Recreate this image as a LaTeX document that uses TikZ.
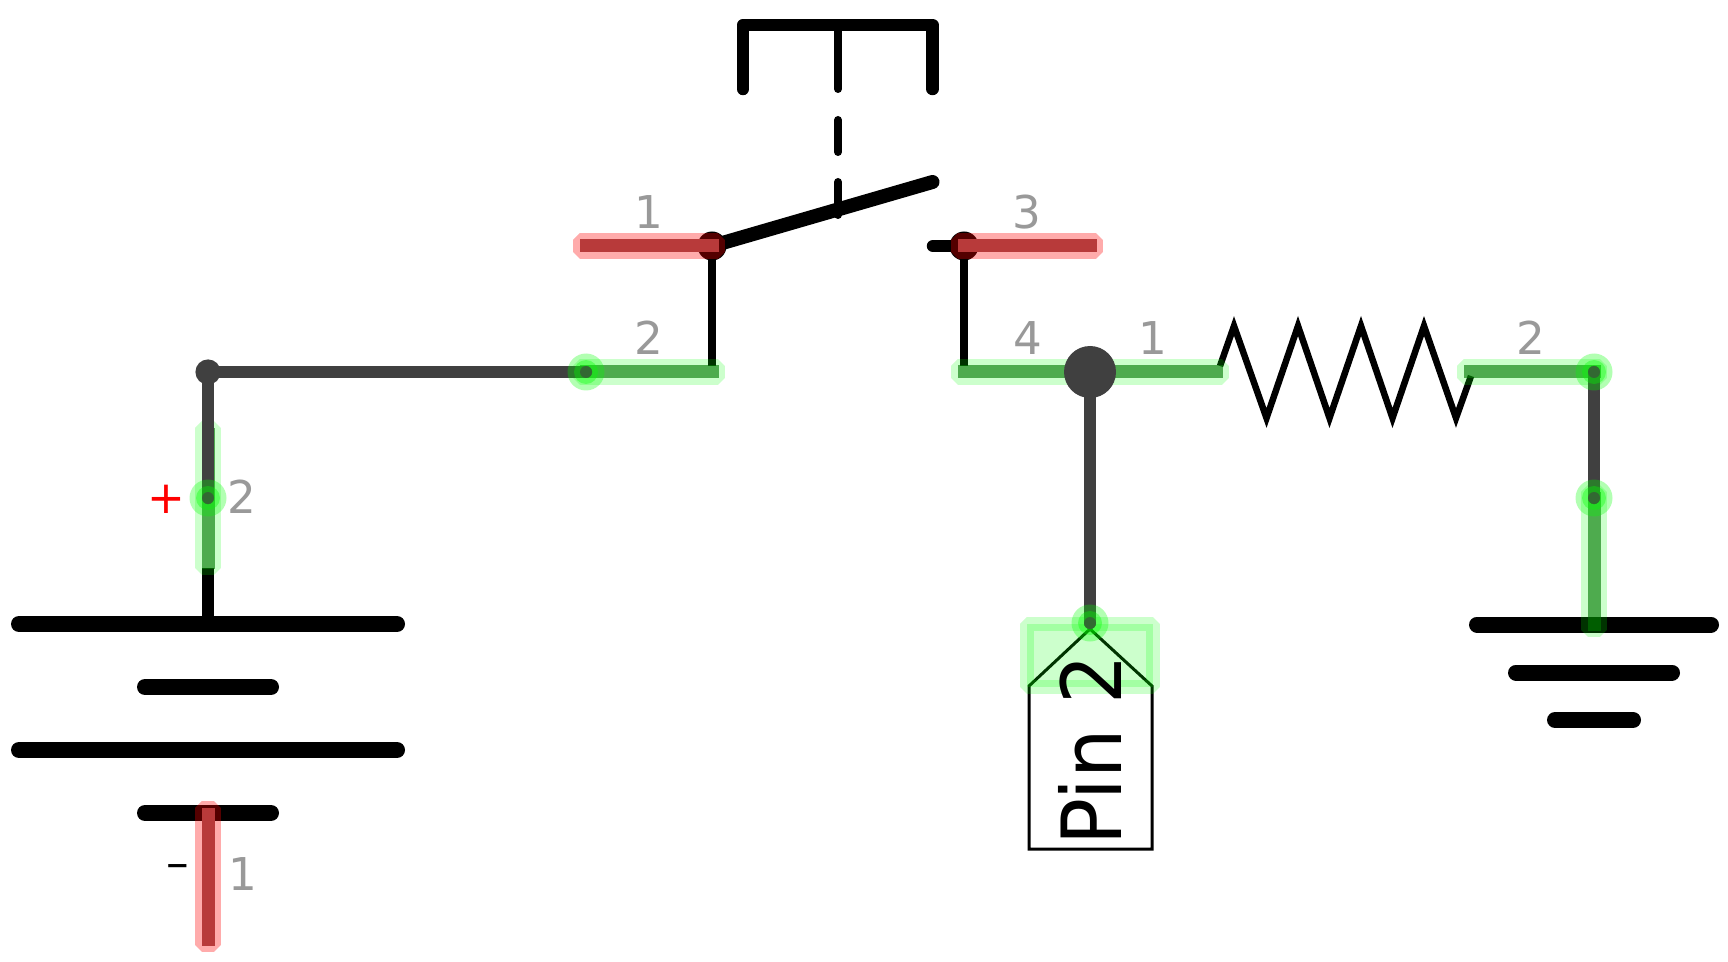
\documentclass[tikz,border=0pt]{standalone}
\usepackage{fontspec}
\usepackage{tikz}
\setmainfont{DejaVu Sans}
\newfontfamily\pinfont[FakeStretch=0.94]{DejaVu Sans}
\definecolor{wiregray}{HTML}{404040}
\definecolor{coregreen}{RGB}{0,120,0}
\definecolor{corered}{RGB}{184,58,58}
\definecolor{numgray}{HTML}{999999}
\definecolor{pindot}{RGB}{50,105,50}
\tikzset{
    symline/.style={line width=6.25pt,line cap=round,line join=round},
    plate/.style={line width=8pt,line cap=round},
    thinline/.style={line width=4.25pt},
    wire/.style={draw=wiregray,line width=6.25pt,line cap=round},
    haloG/.style={draw=green,draw opacity=0.2,line width=7pt,line join=bevel},
    haloR/.style={draw=red,draw opacity=0.33,line width=7pt,line join=bevel},
    coreG/.style={draw=coregreen,draw opacity=0.62,line width=6.5pt,line cap=rect},
    coreR/.style={draw=corered,line width=6.5pt,line cap=rect},
    pinnum/.style={text=numgray,font=\fontsize{22.6}{24}\selectfont,inner sep=0pt},
}
\newcommand{\pinbar}[3]{%
    \draw[halo#1] ([xshift=-3pt,yshift=3pt]#2) rectangle ([xshift=3pt,yshift=-3pt]#3);
    \draw[core#1] (#2) -- (#3);}
\begin{document}
\begin{tikzpicture}[x=0.5pt,y=-0.5pt]
    \useasboundingbox (0,0) rectangle (1728,962);
    \coordinate (s1a) at (586,246);
    \coordinate (s1b) at (712,246);
    \coordinate (s2a) at (586,372);
    \coordinate (s2b) at (712,372);
    \coordinate (s3a) at (964,246);
    \coordinate (s3b) at (1090,246);
    \coordinate (s4a) at (964,372);
    \coordinate (junc) at (1090,372);
    \coordinate (r1b) at (1216,372);
    \coordinate (r2a) at (1470,372);
    \coordinate (r2b) at (1594,372);
    \coordinate (corner) at (208,372);
    \coordinate (b2) at (208,498);
    \coordinate (b2a) at (208,434);
    \coordinate (b2b) at (208,562);
    \coordinate (b1a) at (208,814);
    \coordinate (b1b) at (208,939);
    \coordinate (g1) at (1594,498);
    \coordinate (g1b) at (1594,624);
    \coordinate (tag) at (1090,623);

    \draw[plate] (19,624) -- (397,624);
    \draw[plate] (145,687) -- (271,687);
    \draw[plate] (19,750) -- (397,750);
    \draw[plate] (145,813) -- (271,813);
    \draw[line width=6.25pt] (208,568) -- (208,624);

    \draw[plate] (1477,624.5) -- (1711,624.5);
    \draw[plate] (1516,672.5) -- (1672,672.5);
    \draw[plate] (1555,720) -- (1633,720);

    \draw[symline] (743,89) -- (743,25) -- (932.5,25) -- (932.5,89);
    \foreach \ya/\yb in {25/89,120/152,182/215}
        \draw[line width=4pt,line cap=round] (838,\ya) -- (838,\yb);
    \draw[symline,line width=7pt] (s1b) -- (932.5,182);
    \draw[symline] (933,246) -- (s3a);
    \fill (s1b) circle (7.25pt);
    \fill (s3a) circle (7.25pt);
    \draw[thinline] (s1b) -- (712,366);
    \draw[thinline] (s3a) -- (964,366);
    \draw[line width=3.25pt,miter limit=10] (1220,366) -- (1234,326) -- (1266.5,418) -- (1298,326)
        -- (1329.5,418) -- (1361,326) -- (1392.5,418) -- (1424,326) -- (1456,418) -- (1471,376);

    \draw[line width=1.5pt,line join=miter] (1029,686) -- (1090,629) -- (1152,686)
        -- (1152,849) -- (1029,849) -- cycle;
    \path[draw=green,fill=green,opacity=0.2,line width=7pt,line join=bevel] (1027,624) rectangle (1153,686.5);

    \pinbar{R}{s1a}{s1b}
    \pinbar{R}{s3a}{s3b}
    \pinbar{R}{b1a}{b1b}
    \pinbar{G}{s2a}{s2b}
    \pinbar{G}{s4a}{junc}
    \pinbar{G}{junc}{r1b}
    \pinbar{G}{r2a}{r2b}
    \pinbar{G}{b2a}{b2b}
    \pinbar{G}{g1}{g1b}

    \draw[wire] (s2a) -- (corner) -- (b2);
    \draw[wire] (junc) -- (tag);
    \draw[wire] (r2b) -- (g1);
    \fill[wiregray] (corner) circle (6.3pt);
    \fill[wiregray] (junc) circle (13pt);

    \foreach \p in {s2a,b2,tag,r2b,g1} {
        \fill[green,opacity=0.3] (\p) circle (9.25pt);
        \fill[green,opacity=0.35] (\p) circle (6pt);
        \fill[pindot] (\p) circle (3pt);
    }

    \node[pinnum] (s1num) at (649,212) {1};
    \node[pinnum] (s2num) at (649,338) {2};
    \node[pinnum] (s3num) at (1027,212) {3};
    \node[pinnum] (s4num) at (1028,338) {4};
    \node[pinnum] (r1num) at (1153,338) {1};
    \node[pinnum] (r2num) at (1531,338) {2};
    \node[pinnum] (b2num) at (242,497) {2};
    \node[pinnum] (b1num) at (243,874) {1};
    \node[pinnum,text=red] (plus) at (166.5,499) {+};
    \node[pinnum,text=black] (minus) at (178,872) {–};
    \node[rotate=90,inner sep=0pt,font=\pinfont\fontsize{41.5}{44}\selectfont] (tagtext) at (1090,750) {Pin 2};
\end{tikzpicture}
\end{document}
